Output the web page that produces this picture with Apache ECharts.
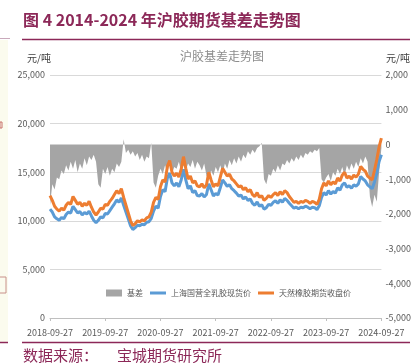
<!DOCTYPE html>
<html><head><meta charset="utf-8">
<script src="https://cdn.jsdelivr.net/npm/echarts@6/dist/echarts.min.js"></script>
<style>html,body{margin:0;padding:0;background:#fff}#c{width:414px;height:363px}</style>
</head><body><div id="c"></div>
<script>
// categories: half-monthly dates from 2018-09-27 to 2024-09-27
const startYear = 2018, startMonth = 9, nPoints = 145;
const categories = [];
for (let i = 0; i < nPoints; i++) {
  let mOff = i % 2 === 0 ? i / 2 : (i - 1) / 2 + 1;
  let day = i % 2 === 0 ? 27 : 12;
  let m = startMonth - 1 + mOff;
  let y = startYear + Math.floor(m / 12);
  let mm = (m % 12) + 1;
  categories.push(y + '-' + String(mm).padStart(2, '0') + '-' + String(day).padStart(2, '0'));
}
const seriesNames = ['基差', '上海国营全乳胶现货价', '天然橡胶期货收盘价'];
const futures = [
12600,12100,11500,11200,11000,11300,11100,11600,11900,11700,
12500,12100,11700,11900,11500,11800,11600,12000,11400,10900,
10600,10900,11300,11200,11700,11600,12000,12300,12700,13100,
12800,13300,12400,11600,10800,10000,9500,9700,10000,9900,
10100,10000,10300,10400,10900,11900,12400,12200,13500,14200,
14000,15600,16200,15000,14600,14900,14500,15300,16600,15400,
14300,14600,13900,14100,13600,13500,13800,13400,13700,15000,
14200,13500,13800,13600,14500,15400,15000,14600,14800,14300,
14100,13800,13500,13600,13200,13400,13000,13200,12700,12500,
12900,12400,12600,12100,12300,12600,12400,12700,12900,12600,
13000,12700,13100,12900,12500,12200,11900,12000,11800,12000,
11900,12100,12000,11800,12000,11900,11700,12200,13300,13900,
13600,14100,13700,14000,13800,14400,14100,14700,15000,14400,
14600,14300,14700,14500,14800,15600,15300,15100,14600,14400,
14200,15200,16300,17600,18500];
const spot = [
11200,10900,10400,10200,10050,10350,10200,10650,10900,10800,
11500,11150,10800,10950,10600,10850,10700,11000,10500,10050,
9800,10050,10400,10300,10750,10700,11050,11400,11750,12150,
11900,12350,11600,10900,10200,9500,9100,9300,9550,9500,
9650,9600,9850,9900,10250,11000,11500,11300,12500,13200,
13000,14400,14900,13900,13600,13900,13500,14200,15300,14200,
13300,13600,12900,13100,12600,12550,12800,12450,12700,13800,
13200,12550,12800,12650,13400,14200,13900,13550,13700,13300,
13100,12850,12550,12650,12250,12450,12100,12250,11800,11600,
11950,11500,11650,11200,11350,11700,11600,11900,12050,11800,
12150,11900,12300,12100,11800,11550,11300,11400,11250,11400,
11350,11500,11400,11250,11400,11350,11150,11550,12400,12900,
12650,13100,12750,13000,12850,13400,13150,13700,13900,13450,
13600,13350,13700,13550,13800,14550,14300,14100,13700,13500,
13300,14000,14900,16100,16800];
const basis = [
-1750,-1150,-1300,-950,-1000,-750,-850,-600,-750,-500,
-700,-450,-800,-550,-700,-400,-600,-350,-450,-300,
-500,-1150,-1250,-700,-850,-650,-900,-700,-800,-550,
-650,-500,150,-250,-150,-300,-200,-350,-250,-450,
-300,-500,-350,-400,50,-1100,-1250,-900,-700,-850,
-600,-800,-550,-850,-650,-700,-500,-800,-600,-750,
-550,-650,-450,-700,-500,-600,-750,-550,-900,-1000,
-750,-900,-650,-800,-600,-850,-550,-700,-450,-600,
-400,-550,-350,-500,-300,-400,-200,-300,-150,-250,
-100,-50,50,-1000,-1150,-850,-900,-700,-800,-600,
-750,-550,-600,-450,-550,-400,-500,-350,-450,-300,
-400,-250,-300,-200,-250,-150,-200,-100,-1000,-1100,
-950,-850,-1050,-800,-900,-700,-850,-650,-900,-600,
-750,-550,-700,-500,-650,-400,-550,-350,-500,-1500,
-1800,-1450,-1650,-800,-100];
const leftTicks = {min: 0, max: 25000, interval: 5000};
const rightTicks = {min: -5000, max: 2000, interval: 1000};

const fmt = v => { const s = Math.abs(v).toString().replace(/\B(?=(\d{3})+(?!\d))/g, ','); return (v < 0 ? '-' : '') + s; };
const NARROW = "'Liberation Sans Narrow', 'Noto Sans CJK SC', sans-serif";
const CJK = "'Noto Sans CJK SC', sans-serif";
const maroon = '#8C2858';
const lineIcon = 'path://M0,0H16V3H0Z';

const chart = echarts.init(document.getElementById('c'), null, {renderer: 'canvas'});
chart.setOption({
  animation: false,
  backgroundColor: '#fff',
  grid: {left: 50, right: 31, top: 75, bottom: 45},
  legend: {
    left: 101, top: 284, itemGap: 7, itemWidth: 16, itemHeight: 7,
    textStyle: {fontSize: 8, color: '#595959', fontFamily: CJK},
    data: [{name: seriesNames[0], icon: 'rect'}, {name: seriesNames[1], icon: lineIcon}, {name: seriesNames[2], icon: lineIcon}]
  },
  xAxis: {
    type: 'category', data: categories, boundaryGap: false,
    axisLine: {lineStyle: {color: '#bfbfbf'}},
    axisTick: {show: true, interval: 23, length: 3, lineStyle: {color: '#bfbfbf'}},
    axisLabel: {interval: 23, margin: 10, fontSize: 9, color: '#595959', fontFamily: NARROW}
  },
  yAxis: [
    {type: 'value', min: leftTicks.min, max: leftTicks.max, interval: leftTicks.interval,
     axisLine: {show: false}, axisTick: {show: false},
     axisLabel: {formatter: fmt, fontSize: 9, color: '#595959', fontFamily: NARROW, margin: 5},
     splitLine: {lineStyle: {color: '#d9d9d9'}}},
    {type: 'value', min: rightTicks.min, max: rightTicks.max, interval: rightTicks.interval,
     axisLine: {show: false}, axisTick: {show: false}, splitLine: {show: false},
     axisLabel: {formatter: fmt, fontSize: 9, color: '#595959', fontFamily: NARROW, margin: 4}}
  ],
  series: [
    {name: seriesNames[0], type: 'line', yAxisIndex: 1, data: basis, symbol: 'none',
     color: '#A5A5A5', lineStyle: {width: 0}, areaStyle: {color: '#A5A5A5', opacity: 1}},
    {name: seriesNames[1], type: 'line', yAxisIndex: 0, data: spot, symbol: 'none',
     color: '#5B9BD5', lineStyle: {width: 3, color: '#5B9BD5'}},
    {name: seriesNames[2], type: 'line', yAxisIndex: 0, data: futures, symbol: 'none',
     color: '#ED7D31', lineStyle: {width: 3, color: '#ED7D31'}}
  ],
  graphic: [
    {type: 'rect', left: 0, top: 40, shape: {width: 8, height: 302}, style: {fill: '#fbfbee'}, silent: true},
    {type: 'line', shape: {x1: 0, y1: 38.5, x2: 10, y2: 38.5}, style: {stroke: '#c9a9bb', lineWidth: 1}},
    {type: 'rect', shape: {x: 0, y: 122, width: 2, height: 6}, style: {fill: 'none', stroke: '#c8706a', lineWidth: 1}},
    {type: 'rect', shape: {x: -1, y: 277, width: 7, height: 16}, style: {fill: 'none', stroke: '#c8908a', lineWidth: 1}},
    {type: 'line', shape: {x1: 22, y1: 39.5, x2: 410, y2: 39.5}, style: {stroke: maroon, lineWidth: 1.5}},
    {type: 'line', shape: {x1: 0, y1: 342.5, x2: 8, y2: 342.5}, style: {stroke: maroon, lineWidth: 1.5}},
    {type: 'line', shape: {x1: 22, y1: 342.5, x2: 410, y2: 342.5}, style: {stroke: maroon, lineWidth: 1.5}},
    {type: 'text', left: 23, top: 12, style: {text: '图 4 2014-2024 年沪胶期货基差走势图', font: "bold 16px 'Noto Sans CJK SC', sans-serif", fill: maroon}},
    {type: 'text', x: 222, y: 56, style: {text: '沪胶基差走势图', font: "12px 'Noto Sans CJK SC', sans-serif", fill: '#8c8c8c', align: 'center', verticalAlign: 'middle'}},
    {type: 'text', x: 27, y: 58, style: {text: '元/吨', font: "10px 'Noto Sans CJK SC', sans-serif", fill: '#404040', verticalAlign: 'middle'}},
    {type: 'text', x: 386, y: 58, style: {text: '元/吨', font: "10px 'Noto Sans CJK SC', sans-serif", fill: '#404040', verticalAlign: 'middle'}},
    {type: 'text', x: 23, y: 355, style: {text: '数据来源：', font: "15px 'Noto Sans CJK SC', sans-serif", fill: maroon, verticalAlign: 'middle'}},
    {type: 'text', x: 117, y: 355, style: {text: '宝城期货研究所', font: "15px 'Noto Sans CJK SC', sans-serif", fill: maroon, verticalAlign: 'middle'}}
  ]
});
</script></body></html>
